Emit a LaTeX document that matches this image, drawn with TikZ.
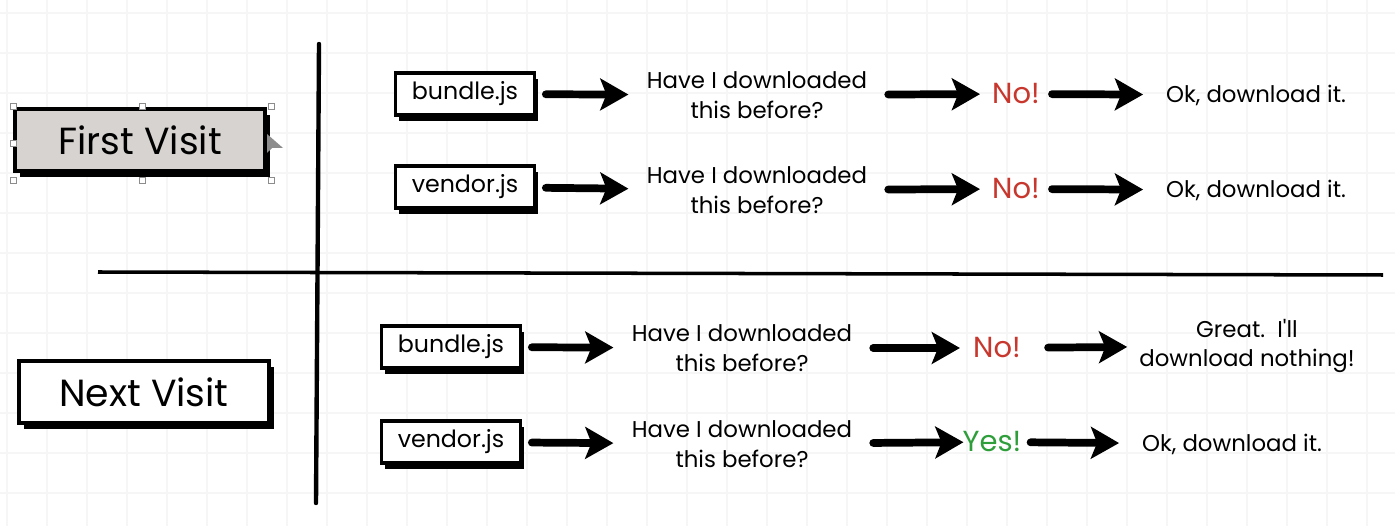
\documentclass[tikz,border=0pt]{standalone}
\usepackage{fontspec}
\setmainfont{Poppins}[Ligatures=TeXOff]
\usetikzlibrary{arrows.meta,shadows}
\definecolor{nored}{HTML}{C8372D}
\definecolor{yesgreen}{HTML}{2E9E3A}
\definecolor{firstgray}{HTML}{D7D3D0}
\begin{document}
\begin{tikzpicture}[x=0.02cm,y=-0.02cm]
\tikzstyle{gridline}=[black!3.5,line width=0.6pt]
\tikzstyle{visit}=[draw,line width=2.2pt,minimum width=142pt,minimum height=35pt,font=\fontsize{21.5}{25}\selectfont,fill=white,drop shadow={shadow xshift=2.8pt,shadow yshift=-3.5pt,fill=black,opacity=1}]
\tikzstyle{file}=[draw,line width=2pt,minimum width=79pt,minimum height=24pt,font=\fontsize{13.5}{16}\selectfont,fill=white,drop shadow={shadow xshift=2pt,shadow yshift=-3.5pt,fill=black,opacity=1}]
\tikzstyle{ask}=[align=center,font=\fontsize{13}{17}\selectfont]
\tikzstyle{answer}=[font=\fontsize{16.5}{19}\selectfont]
\tikzstyle{flow}=[line width=4.4pt,line cap=round,-{Stealth[length=16pt,width=18pt,inset=3.5pt]}]
\useasboundingbox (0,0) rectangle (1395,526);
\fill[white] (0,0) rectangle (1395,526);
% background grid
\foreach \x in {7,47,...,1395} \draw[gridline] (\x,0) -- (\x,526);
\foreach \y in {13,53,...,526} \draw[gridline] (0,\y) -- (1395,\y);
% dividers
\draw[line width=2.5pt,line cap=round] (319,44) -- (316,503);
\draw[line width=2pt] (98,272) -- (1383,275);
% visits
\node[visit,fill=firstgray] (first) at (140,140) {First Visit};
\node[visit] (next) at (144,392) {Next Visit};
\foreach \hx/\hy in {13/106,142/106,271/106,13/143,13/180,142/180,271/180}
  \draw[black!45,fill=white,line width=0.4pt] (\hx-3,\hy-3) rectangle (\hx+3,\hy+3);
\fill[black!45] (267,134) -- (267,153) -- (272,148) -- (283,148) -- cycle;
% first visit
\node[file] (b1) at (465,94) {bundle.js};
\node[ask] (q1) at (757,95) {Have I downloaded\\this before?};
\node[answer,text=nored] (a1) at (1016,94) {No!};
\node[ask] (r1) at (1256,95) {Ok, download it.};
\node[file] (b2) at (465,187) {vendor.js};
\node[ask] (q2) at (757,190) {Have I downloaded\\this before?};
\node[answer,text=nored] (a2) at (1016,189) {No!};
\node[ask] (r2) at (1256,190) {Ok, download it.};
% next visit
\node[file] (b3) at (451,347) {bundle.js};
\node[ask] (q3) at (742,348) {Have I downloaded\\this before?};
\node[answer,text=nored] (a3) at (997,348) {No!};
\node[ask] (r3) at (1247,346) {Great.\ \ I'll\\download nothing!};
\node[file] (b4) at (451,442) {vendor.js};
\node[ask] (q4) at (742,444) {Have I downloaded\\this before?};
\node[answer,text=yesgreen] (a4) at (992,442) {Yes!};
\node[ask] (r4) at (1232,444) {Ok, download it.};
\draw[flow,shorten <=5.5pt,shorten >=7pt] (b1) -- (q1);
\draw[flow,shorten <=8.5pt,shorten >=3.4pt] (q1) -- (a1);
\draw[flow,shorten <=3.4pt,shorten >=9.6pt] (a1) -- (r1);
\draw[flow,shorten <=5.5pt,shorten >=7pt] (b2) -- (q2);
\draw[flow,shorten <=8.5pt,shorten >=3.4pt] (q2) -- (a2);
\draw[flow,shorten <=3.4pt,shorten >=9.6pt] (a2) -- (r2);
\draw[flow,shorten <=5.5pt,shorten >=7pt] (b3) -- (q3);
\draw[flow,shorten <=8.5pt,shorten >=4pt] (q3) -- (a3);
\draw[flow,shorten <=12pt,shorten >=3.4pt] (a3) -- (r3);
\draw[flow,shorten <=5.5pt,shorten >=7pt] (b4) -- (q4);
\draw[flow,shorten <=8.5pt,shorten >=-4pt] (q4) -- (a4);
\draw[flow,shorten <=1.7pt,shorten >=9.6pt] (a4) -- (r4);
\end{tikzpicture}
\end{document}
